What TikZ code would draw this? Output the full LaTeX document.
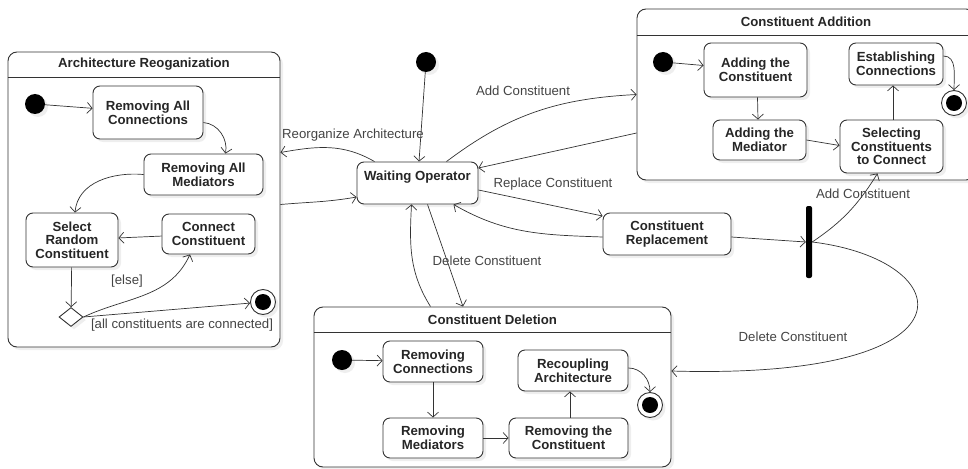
\documentclass[tikz,border=0pt]{standalone}
\usepackage{fontspec}
\setmainfont{Liberation Sans}
\usetikzlibrary{arrows.meta,shapes.geometric,shadows}

\newcommand\umlfont{\fontsize{13.2pt}{13.6pt}\selectfont}
\definecolor{umlline}{HTML}{333333}
\definecolor{umltext}{HTML}{444444}

\tikzset{
  softshadow/.style={drop shadow={opacity=0.13, shadow xshift=3pt, shadow yshift=-3pt}},
  state/.style={draw=umlline, line width=0.9pt, rounded corners=7pt, fill=white, align=center,
    font=\umlfont\bfseries, text=black!85, inner sep=1pt, softshadow},
  composite/.style={draw=umlline, line width=0.9pt, rounded corners=9pt, fill=white, softshadow},
  comptitle/.style={font=\umlfont\bfseries, text=black!85, inner sep=0pt},
  initial/.style={circle, fill=black, minimum size=20pt, inner sep=0pt, softshadow},
  final/.style={circle, draw=umlline, line width=0.9pt, fill=white, minimum size=25pt, inner sep=0pt, softshadow,
    path picture={\fill[black] (path picture bounding box.center) circle (8pt);}},
  choice/.style={diamond, draw=umlline, line width=0.9pt, fill=white, minimum width=24pt,
    minimum height=19pt, inner sep=0pt, softshadow},
  forkbar/.style={fill=black, rounded corners=2pt, minimum width=6pt, minimum height=72pt, inner sep=0pt},
  guard/.style={font=\umlfont, text=umltext, inner sep=0pt},
  trans/.style={draw=umlline, line width=0.7pt, -{Straight Barb[length=5pt,width=11pt]}}
}

\begin{document}
\begin{tikzpicture}[x=1pt,y=1pt]
\useasboundingbox (0,0) rectangle (968,-468);

% composite states
\node[composite, minimum width=272, minimum height=295] (arch) at (144,-199.5) {};
\draw[umlline, line width=0.9pt] ([yshift=-26]arch.north west) -- ([yshift=-26]arch.north east);
\node[comptitle] (archT) at ([yshift=-13]arch.north) {Architecture Reoganization};

\node[composite, minimum width=338, minimum height=171] (ca) at (806,-94.5) {};
\draw[umlline, line width=0.9pt] ([yshift=-27]ca.north west) -- ([yshift=-27]ca.north east);
\node[comptitle] (caT) at ([yshift=-13.5]ca.north) {Constituent Addition};

\node[composite, minimum width=357, minimum height=160] (cd) at (492.5,-387) {};
\draw[umlline, line width=0.9pt] ([yshift=-26]cd.north west) -- ([yshift=-26]cd.north east);
\node[comptitle] (cdT) at ([yshift=-13]cd.north) {Constituent Deletion};

% architecture reorganization
\node[initial] (dotA) at (35,-104) {};
\node[state, minimum width=110, minimum height=53] (rac) at (148,-112.5) {Removing All\\Connections};
\node[state, minimum width=119, minimum height=41] (ram) at (203.5,-174.5) {Removing All\\Mediators};
\node[state, minimum width=92, minimum height=54] (srt) at (72,-240) {Select\\Random\\Constituent};
\node[state, minimum width=93, minimum height=40] (cc) at (208.5,-234) {Connect\\Constituent};
\node[choice] (dia) at (71,-317) {};
\node[final] (finA) at (263,-302) {};

\draw[trans] (dotA) -- (rac);
\draw[trans] ([yshift=-10]rac.east) to[out=-5,in=80] ([xshift=22]ram.north);
\draw[trans] (ram.west) to[out=175,in=85] ([xshift=3]srt.north);
\draw[trans] (cc) -- (srt);
\draw[trans] (srt) -- (dia);
\draw[trans] (dia.east) to[out=25,in=-115] ([xshift=-18.5]cc.south);
\draw[trans] (dia.east) -- (finA);
\node[guard] (gElse) at (127,-281) {[else]};
\node[guard] (gAll) at (182,-325) {[all constituents are connected]};

% constituent addition
\node[initial] (dotC) at (663,-62) {};
\node[state, minimum width=103, minimum height=54] (act) at (755.5,-70) {Adding the\\Constituent};
\node[state, minimum width=93, minimum height=40] (adm) at (759.5,-140) {Adding the\\Mediator};
\node[state, minimum width=103, minimum height=53] (sel) at (891.5,-146.5) {Selecting\\Constituents\\to Connect};
\node[state, minimum width=94, minimum height=42] (est) at (896,-64) {Establishing\\Connections};
\node[final] (finC) at (954,-103) {};

\draw[trans] (dotC) -- (act);
\draw[trans] ([xshift=2]act.south) -- ([xshift=-1.5]adm.north);
\draw[trans] (adm.east) -- ([yshift=1]sel.west);
\draw[trans] ([xshift=1.5]sel.north) -- ([xshift=-3]est.south);
\draw[trans] ([yshift=8]est.east) to[out=0,in=90] (finC);

% constituent deletion
\node[initial] (dotD) at (342,-360) {};
\node[state, minimum width=100, minimum height=41] (rc) at (433,-361.5) {Removing\\Connections};
\node[state, minimum width=100, minimum height=40] (rm) at (433,-438) {Removing\\Mediators};
\node[state, minimum width=119, minimum height=40] (rth) at (568.5,-438) {Removing the\\Constituent};
\node[state, minimum width=110, minimum height=41] (ra) at (573,-370.5) {Recoupling\\Architecture};
\node[final] (finD) at (650,-405) {};

\draw[trans] (dotD) -- (rc);
\draw[trans] (rc) -- (rm);
\draw[trans] (rm) -- (rth);
\draw[trans] ([xshift=1.5]rth.north) -- ([xshift=-3]ra.south);
\draw[trans] ([yshift=2.5]ra.east) to[out=0,in=90] (finD);

% top level
\node[initial] (dot0) at (426,-62) {};
\node[state, minimum width=121, minimum height=42, text depth=14pt] (wo) at (417.5,-183) {Waiting Operator};
\node[state, minimum width=128, minimum height=42] (cr) at (667,-234) {Constituent\\Replacement};
\node[forkbar] (bar) at (809,-242) {};

\draw[trans] (dot0) -- (wo);
\draw[trans] ([xshift=-43]wo.north) to[out=150,in=10] ([yshift=47]arch.east);
\draw[trans] ([yshift=-5]arch.east) to[out=5,in=190] ([yshift=-14]wo.west);
\draw[trans] ([xshift=29]wo.north) to[out=37,in=183] (ca.west);
\draw[trans] ([yshift=-38.5]ca.west) -- ([yshift=15]wo.east);
\draw[trans] ([yshift=-7]wo.east) -- ([yshift=18]cr.west);
\draw[trans] ([yshift=-3]cr.west) to[out=178,in=-30] ([xshift=36]wo.south);
\draw[trans] ([xshift=10]wo.south) -- ([xshift=-29.5]cd.north);
\draw[trans] ([xshift=-62]cd.north) to[out=122,in=-93] ([xshift=-6]wo.south);
\draw[trans] ([yshift=-3]cr.east) -- (bar.west);
\draw[trans] (bar.east) to[out=34,in=-122] ([xshift=-14]sel.south);
\draw[trans] (bar.east) .. controls (960,-260) and (985,-380) .. ([yshift=16]cd.east);

\node[guard] (lReorg) at (353,-135) {Reorganize Architecture};
\node[guard] (lAdd) at (523,-91) {Add Constituent};
\node[guard] (lRepl) at (553,-184) {Replace Constituent};
\node[guard] (lDel) at (487,-261) {Delete Constituent};
\node[guard] (lAdd2) at (863,-194) {Add Constituent};
\node[guard] (lDel2) at (793,-337) {Delete Constituent};
\end{tikzpicture}
\end{document}
